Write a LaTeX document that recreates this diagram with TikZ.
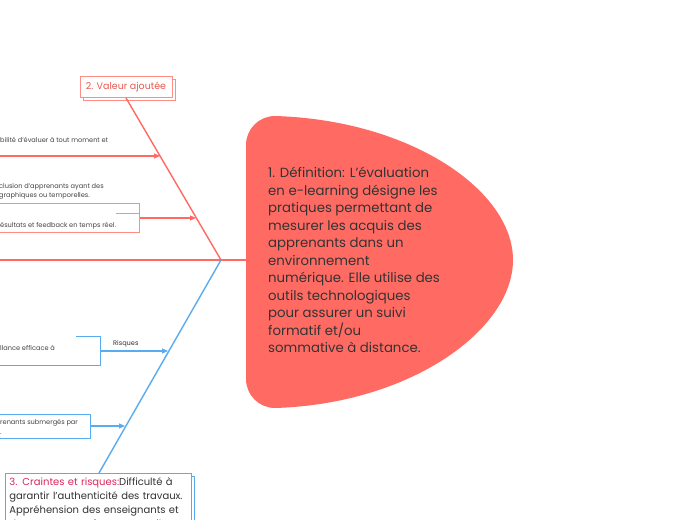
\documentclass[tikz,border=0pt]{standalone}
\usepackage{fontspec}
\setmainfont{Poppins}
\usetikzlibrary{arrows.meta,shadows}
\definecolor{cred}{HTML}{FF6B63}
\definecolor{credbox}{HTML}{FF8C85}
\definecolor{clabel}{HTML}{E55A51}
\definecolor{cblue}{HTML}{5AACF0}
\definecolor{ctxt}{HTML}{333333}
\definecolor{csmall}{HTML}{444444}
\definecolor{cpink}{HTML}{E0245E}
\begin{document}
\begin{tikzpicture}[x=1pt,y=-1pt,
  redline/.style={draw=cred, line width=1.4pt},
  redbranch/.style={draw=cred, line width=1.1pt},
  blueline/.style={draw=cblue, line width=1.4pt},
  bluebranch/.style={draw=cblue, line width=1.1pt},
  arr/.style={-{Triangle[length=6pt,width=5pt]}},
  small/.style={font=\fontsize{6.6}{8}\selectfont, text=csmall, inner sep=0pt, anchor=base west},
]
\useasboundingbox (0,0) rectangle (697,520);
\fill[white] (0,0) rectangle (697,520);

% central topic shape
\fill[cred] (275,116) .. controls (410,120) and (513,190) .. (513,260)
  .. controls (513,330) and (410,404) .. (275,408)
  .. controls (259,408) and (246,395) .. (246,379) -- (246,145)
  .. controls (246,129) and (259,116) .. (275,116) -- cycle;
\node[anchor=north west, align=left, inner sep=0pt, text=ctxt,
  font=\fontsize{13.3}{17.5}\selectfont] (def) at (268,167)
  {1. Définition: L’évaluation\\
   en e-learning désigne les\\
   pratiques permettant de\\
   mesurer les acquis des\\
   apprenants dans un\\
   environnement\\
   numérique. Elle utilise des\\
   outils technologiques\\
   pour assurer un suivi\\
   formatif et/ou\\
   sommative à distance.};

% coordinates
\coordinate (j) at (221,260);
\coordinate (shapeL) at (246,260);
\coordinate (spineL) at (-2,260);

% main topic boxes
\node[draw=credbox, line width=0.9pt, fill=white, text=clabel,
  font=\fontsize{9.5}{11}\selectfont, minimum width=92pt, minimum height=21pt,
  inner sep=0pt, copy shadow={shadow xshift=3pt, shadow yshift=-3pt, draw=credbox, fill=white}]
  (val) at (126,87) {2. Valeur ajoutée};

\node[draw=cblue, line width=0.9pt, fill=white, anchor=north west, align=left,
  text width=178pt, inner xsep=4pt, inner ysep=4pt, text=ctxt,
  font=\fontsize{10}{14}\selectfont,
  copy shadow={shadow xshift=2.5pt, shadow yshift=-2.5pt, draw=cblue, fill=white}]
  (crt) at (5,473)
  {{\color{cpink}3. Craintes et risques:}Difficulté à\\
   garantir l’authenticité des travaux.\\
   Appréhension des enseignants et\\
   des apprenants face aux outils\\
   numériques.};

% spine and bones
\draw[redline] (spineL) -- (shapeL);
\draw[redline] (j) -- (val.south);
\draw[blueline] (j) -- (crt.north -| 99,0);

% red branch 1
\coordinate (s1) at (-2,156);
\coordinate (a1) at (160,156);
\node[small] (t1) at (0,142) {bilité d’évaluer à tout moment et};
\draw[redbranch, arr] (s1) -- (a1);

% red branch 2
\node[small] (t2) at (-1,188) {clusion d’apprenants ayant des};
\node[small] (t3) at (-1,197) {graphiques ou temporelles.};
\node[draw=credbox, line width=0.9pt, anchor=north east, minimum width=150pt,
  minimum height=29pt, inner sep=0pt] (rbox) at (140,203) {};
\coordinate (stub) at (116,213);
\draw[credbox, line width=0.9pt] (stub) -- (stub -| rbox.east);
\node[small] (t4) at (-4,227) {Résultats et feedback en temps réel.};
\coordinate (a2) at (196,218);
\draw[redbranch, arr] (rbox.east |- a2) -- (a2);

% blue branch 1
\coordinate (b1tl) at (76,336);
\coordinate (b1tr) at (100,336);
\coordinate (b1br) at (100,365);
\coordinate (b1bl) at (-2,365);
\draw[cblue, line width=0.9pt] (b1tl) -- (b1tr) -- (b1br) -- (b1bl);
\node[small] (t5) at (0,350) {llance efficace à};
\coordinate (b1e) at (100,351);
\coordinate (a3) at (168,351);
\draw[bluebranch, arr] (b1e) -- (a3);
\node[small, text=ctxt] (risq) at (113,345) {Risques};

% blue branch 2
\node[draw=cblue, line width=0.9pt, anchor=north east, minimum width=100pt,
  minimum height=24pt, inner sep=0pt] (bbox2) at (91,414) {};
\node[small] (t6) at (0,424.5) {renants submergés par};
\node[small] (t7) at (0,434) {.};
\coordinate (a4) at (125,426);
\draw[bluebranch, arr] (bbox2.east |- a4) -- (a4);
\end{tikzpicture}
\end{document}
